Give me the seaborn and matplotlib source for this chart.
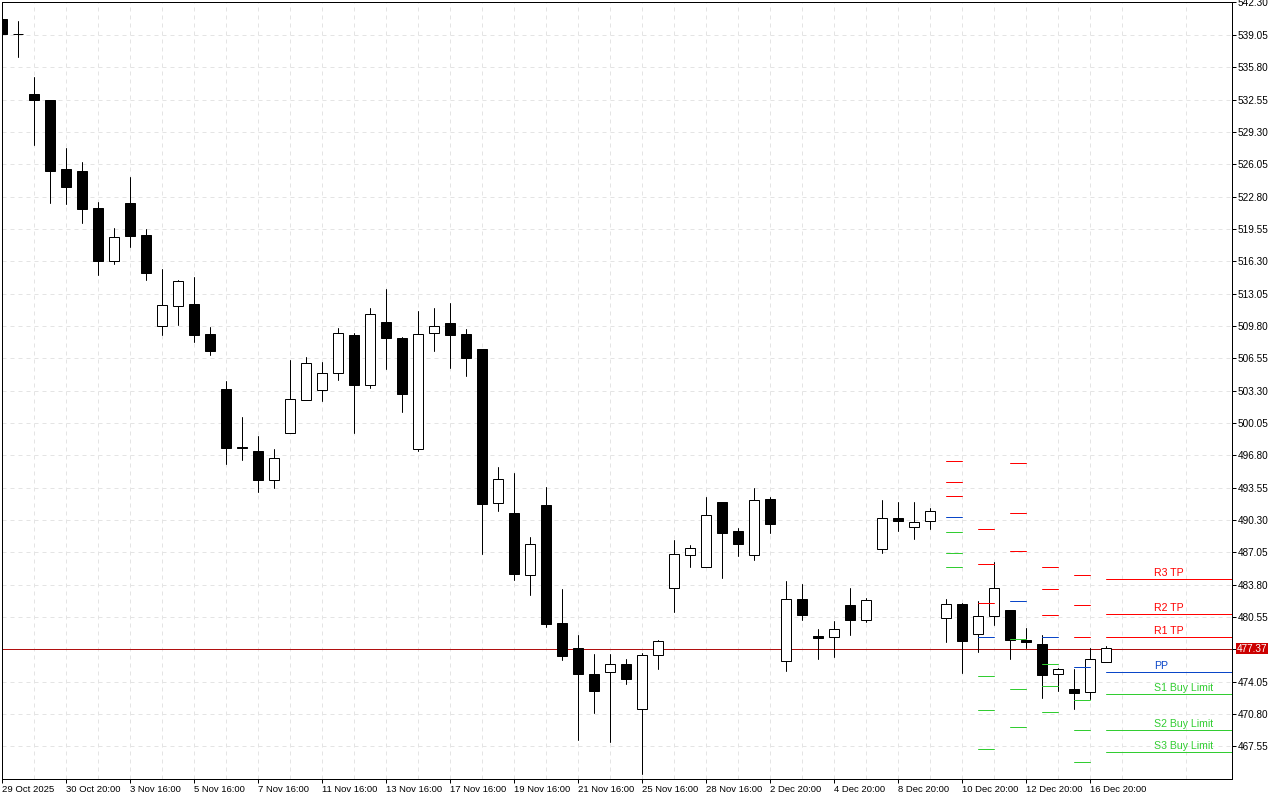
import matplotlib
matplotlib.use('Agg')
import matplotlib.pyplot as plt
from matplotlib.ticker import FixedLocator
import pandas as pd
import seaborn as sns

opens = [540.69, 539.18, 533.15, 532.55, 525.52, 525.41, 521.60, 516.37, 522.10, 518.98,
         509.74, 511.75, 511.95, 509.03, 503.41, 497.62, 497.27, 494.36, 499.08, 502.40,
         503.31, 505.11, 508.93, 503.81, 510.14, 508.63, 497.38, 509.13, 510.04, 509.03,
         507.52, 491.95, 491.04, 484.81, 491.75, 479.89, 477.38, 474.86, 475.06, 475.77,
         471.25, 476.77, 483.41, 486.82, 485.52, 492.05, 489.23, 486.82, 492.45, 476.07,
         482.40, 478.68, 478.58, 481.70, 480.19, 487.33, 490.54, 489.54, 490.14, 480.49,
         481.80, 478.88, 480.69, 481.29, 478.28, 477.78, 474.86, 473.26, 473.05, 475.97]
highs = [540.69, 540.49, 534.86, 532.55, 527.63, 526.22, 522.20, 519.59, 524.81, 519.49,
         515.47, 514.46, 514.76, 509.64, 504.21, 500.69, 498.78, 497.38, 506.42, 506.72,
         506.12, 509.54, 509.13, 511.55, 513.46, 508.73, 511.34, 511.55, 512.05, 509.44,
         507.52, 495.57, 495.06, 488.63, 493.56, 483.31, 478.78, 476.87, 476.87, 476.37,
         476.97, 478.28, 488.33, 487.73, 492.65, 492.05, 489.44, 493.46, 492.65, 484.11,
         483.81, 479.29, 480.09, 483.41, 482.50, 492.25, 492.05, 492.05, 491.45, 482.40,
         481.99, 482.10, 486.02, 481.29, 479.39, 478.78, 475.37, 475.27, 477.38, 477.58]
lows = [539.18, 536.87, 527.93, 522.10, 522.00, 520.09, 514.96, 515.97, 517.68, 514.46,
        508.93, 509.84, 508.13, 506.92, 495.87, 496.37, 493.15, 493.46, 499.08, 502.40,
        502.20, 504.41, 499.08, 503.51, 505.42, 501.19, 497.27, 507.32, 505.52, 504.81,
        486.92, 491.24, 484.21, 482.80, 479.49, 476.17, 468.13, 470.94, 467.93, 473.76,
        464.81, 475.27, 481.09, 485.52, 485.52, 484.51, 486.72, 486.32, 489.03, 475.16,
        480.19, 476.37, 476.57, 478.78, 479.99, 487.02, 489.23, 488.43, 489.34, 477.98,
        474.96, 477.07, 479.69, 476.27, 477.38, 472.45, 473.15, 471.34, 472.25, 475.97]
closes = [539.18, 539.18, 532.48, 525.41, 523.71, 521.50, 516.37, 518.78, 518.88, 515.16,
          511.85, 514.36, 508.93, 507.32, 497.48, 497.52, 494.36, 496.57, 502.50, 506.02,
          505.11, 509.13, 503.81, 511.04, 508.63, 503.00, 509.03, 509.74, 508.93, 506.62,
          491.85, 494.46, 484.91, 487.83, 479.79, 476.67, 474.86, 473.15, 475.77, 474.26,
          476.77, 478.08, 486.92, 487.43, 490.84, 489.03, 487.83, 492.35, 489.84, 482.40,
          480.79, 478.48, 479.29, 480.19, 482.30, 490.54, 490.14, 490.04, 491.24, 481.80,
          478.08, 480.69, 483.41, 478.18, 477.98, 474.76, 475.27, 472.95, 476.37, 477.38]

date_labels = ['29 Oct 2025', '30 Oct 20:00', '3 Nov 16:00', '5 Nov 16:00', '7 Nov 16:00',
               '11 Nov 16:00', '13 Nov 16:00', '17 Nov 16:00', '19 Nov 16:00', '21 Nov 16:00',
               '25 Nov 16:00', '28 Nov 16:00', '2 Dec 20:00', '4 Dec 20:00', '8 Dec 20:00',
               '10 Dec 20:00', '12 Dec 20:00', '16 Dec 20:00']
price_ticks = [467.55 + 3.25 * k for k in range(24)]
current_price = 477.37

# pivot levels per session, last session runs to the right edge
pivot_start = [59, 61, 63, 65, 67, 69]
r3 = [496.24, 489.41, 496.04, 485.59, 484.78, 484.38]
r2 = [494.13, 485.89, 491.01, 483.38, 481.77, 480.86]
r1 = [492.72, 481.97, 487.19, 480.76, 478.55, 478.55]
pp = [490.61, 478.55, 482.17, 478.55, 475.54, 475.04]
s1 = [489.10, 474.63, 478.35, 475.84, 472.22, 472.82]
s2 = [486.99, 471.21, 473.33, 473.65, 469.21, 469.21]
s3 = [485.59, 467.30, 469.51, 471.01, 465.99, 467.00]

RED = '#ff0000'
BLUE = '#0a46c8'
GREEN = '#32cd32'
levels = [('R3 TP', r3, RED), ('R2 TP', r2, RED), ('R1 TP', r1, RED), ('PP', pp, BLUE),
          ('S1 Buy Limit', s1, GREEN), ('S2 Buy Limit', s2, GREEN), ('S3 Buy Limit', s3, GREEN)]

sns.set_theme(style='white')
plt.rcParams['font.family'] = ['Liberation Sans', 'DejaVu Sans']
PX = 0.72
X_MAX = 76.875

df = pd.DataFrame({'open': opens, 'high': highs, 'low': lows, 'close': closes})
df['bar'] = df.index

fig = plt.figure(figsize=(12.8, 8), dpi=100, facecolor='white')
ax = fig.add_axes([2.0 / 1280, 1 - 779.0 / 800, 1230 / 1280, 777 / 800])

ax.axhline(current_price, color='#b01010', lw=PX, zorder=2)

wicks = df.melt(id_vars='bar', value_vars=['high', 'low'], value_name='price')
sns.lineplot(data=wicks, x='bar', y='price', units='bar', estimator=None, sort=False,
             color='black', lw=PX, legend=False, ax=ax, zorder=3)

body_colors = ['black' if o > c else 'white' for o, c in zip(df.open, df.close)]
ax.bar(df.bar, df.close - df.open, bottom=df.open, width=10 / 16, color=body_colors,
       edgecolor='black', linewidth=PX, zorder=4)

for name, values, color in levels:
    segs = []
    for k, (start, value) in enumerate(zip(pivot_start, values)):
        end = X_MAX if start == pivot_start[-1] else start + 1
        segs += [{'x': start, 'y': value, 'seg': k}, {'x': end, 'y': value, 'seg': k}]
    sns.lineplot(data=pd.DataFrame(segs), x='x', y='y', units='seg', estimator=None, sort=False,
                 color=color, lw=PX, legend=False, ax=ax, zorder=5)
    ax.annotate(name, xy=(72, values[-1]), xytext=(0, 6 * PX), textcoords='offset points',
                ha='left', va='center', fontsize=7.6, color=color, zorder=6)

ax.set_xlim(0, X_MAX)
ax.set_ylim(464.26, 542.35)
ax.set_xlabel('')
ax.set_ylabel('')

ax.xaxis.set_major_locator(FixedLocator([4 * k for k in range(len(date_labels))]))
ax.xaxis.set_minor_locator(FixedLocator([4 * k + 2 for k in range(19)]))
ax.set_xticklabels(date_labels, ha='left', fontsize=6.8, color='black')
ax.yaxis.tick_right()
ax.set_yticks(price_ticks)
ax.set_yticklabels([f'{p:.2f}' for p in price_ticks], fontsize=7.2, color='black')
ax.tick_params(axis='x', which='major', length=4 * PX, width=PX, color='black', pad=1.5, bottom=True)
ax.tick_params(axis='x', which='minor', length=0)
ax.tick_params(axis='y', length=4 * PX, width=PX, color='black', pad=1, right=True)
for label in ax.get_xticklabels():
    label.set_horizontalalignment('left')

ax.set_axisbelow(True)
ax.grid(True, which='both', color='#e4e4e4', lw=PX, linestyle=(0, (4, 4)))
for spine in ax.spines.values():
    spine.set_visible(True)
    spine.set_color('black')
    spine.set_linewidth(PX)

# current price tag sitting on the right axis
ax.annotate(f'{current_price:.2f}', xy=(1, current_price), xycoords=ax.get_yaxis_transform(),
            xytext=(5 * PX, 0), textcoords='offset points', ha='left', va='center',
            fontsize=7.2, color='white', annotation_clip=False,
            bbox=dict(boxstyle='square,pad=0.08', fc='#cc0000', ec='none'), zorder=7)

fig.savefig('out.png', dpi=100)
